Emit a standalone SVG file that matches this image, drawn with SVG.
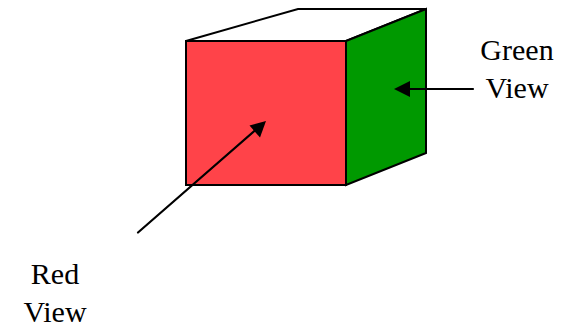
<svg xmlns="http://www.w3.org/2000/svg" width="574" height="327" viewBox="0 0 574 327">
<style>
.e{stroke:#000;stroke-width:2;stroke-linejoin:miter}
.c{stroke:#000;stroke-width:2.2;fill:none;stroke-linecap:round}
.h{fill:#000;stroke:none}
text{font-family:"Liberation Serif","Times New Roman",serif;font-size:30px;fill:#000;text-anchor:middle}
</style>
<rect width="574" height="327" fill="#fff"/>
<g id="cube">
<polygon class="e" fill="#fff" points="186,41 298,9 426,9 346,41"/>
<polygon class="e" fill="#009900" points="346,41 426,9 426,153 346,185"/>
<rect class="e" fill="#ff4349" x="186" y="41" width="160" height="144"/>
</g>
<g id="connectors">
<line class="c" x1="138" y1="232.500" x2="256" y2="129.500"/>
<polygon class="h" points="266,121 249.500,125.500 260,137.500"/>
<line class="c" x1="473" y1="89" x2="405" y2="89"/>
<polygon class="h" points="394,89 410,81 410,97"/>
</g>
<g id="red-view">
<text x="55" y="284">Red</text>
<text x="55" y="322">View</text>
</g>
<g id="green-view">
<text x="517" y="60">Green</text>
<text x="517" y="98">View</text>
</g>
</svg>
